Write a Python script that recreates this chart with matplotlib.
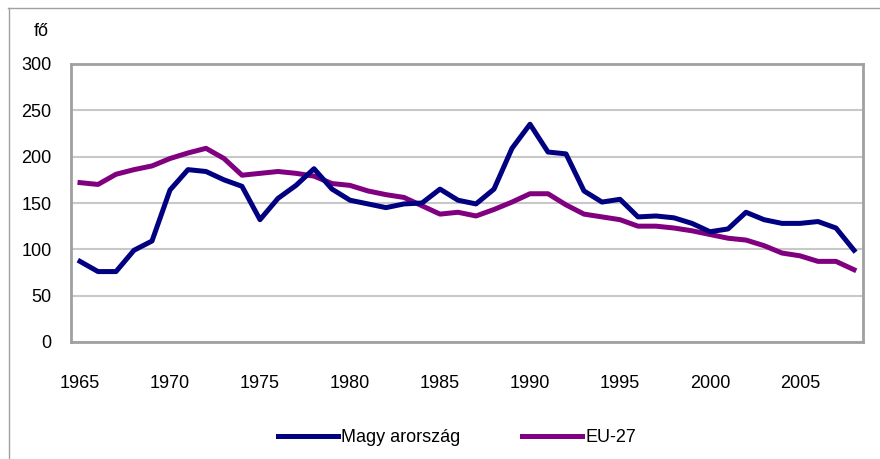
import matplotlib
matplotlib.use("Agg")
import matplotlib.pyplot as plt
from matplotlib import font_manager
from matplotlib.lines import Line2D

years = list(range(1965, 2009))
hungary = [87, 76, 76, 99, 109, 164, 186, 184, 175, 168,
           132, 155, 169, 187, 165, 153, 149, 145, 149, 150,
           165, 153, 149, 165, 209, 235, 205, 203, 163, 151,
           154, 135, 136, 134, 128, 119, 122, 140, 132, 128,
           128, 130, 123, 99]
eu27 = [172, 170, 181, 186, 190, 198, 204, 209, 198, 180,
        182, 184, 182, 179, 171, 169, 163, 159, 156, 147,
        138, 140, 136, 143, 151, 160, 160, 148, 138, 135,
        132, 125, 125, 123, 120, 116, 112, 110, 104, 96,
        93, 87, 87, 78]
series_labels = ["Magy arország", "EU-27"]
y_ticks = [0, 50, 100, 150, 200, 250, 300]
x_label_years = [1965, 1970, 1975, 1980, 1985, 1990, 1995, 2000, 2005]
unit_label = "fő"

names = {f.name for f in font_manager.fontManager.ttflist}
if "Liberation Sans Narrow" in names:
    fam = ["Liberation Sans Narrow", "DejaVu Sans"]
    fs = 14.5
else:
    fam = ["Liberation Sans", "DejaVu Sans"]
    fs = 13
plt.rcParams["font.family"] = fam

fig = plt.figure(figsize=(8.8, 4.59), dpi=100)
ax = fig.add_axes([71/880, 1-342/459, 792/880, 278/459])

idx = list(range(len(years)))
ax.plot(idx, hungary, color="#000080", lw=3.6, solid_joinstyle="round", label=series_labels[0], zorder=3)
ax.plot(idx, eu27, color="#800080", lw=3.6, solid_joinstyle="round", label=series_labels[1], zorder=2)

ax.set_xlim(-0.5, len(years)-0.5)
ax.set_ylim(0, 300)
ax.set_yticks(y_ticks)
ax.set_yticklabels([str(v) for v in y_ticks], fontsize=fs)
ax.set_xticks([years.index(y) for y in x_label_years])
ax.set_xticklabels([str(y) for y in x_label_years], fontsize=fs)
ax.tick_params(axis="both", length=0)
ax.tick_params(axis="y", pad=14)
ax.tick_params(axis="x", pad=24)
ax.grid(axis="y", color="#c8c8c8", lw=1.5)
ax.set_axisbelow(True)
for s in ax.spines.values():
    s.set_color("#a0a0a0")
    s.set_linewidth(2)

fig.text(49/880, 1-31/459, unit_label, fontsize=fs, ha="right", va="center")

# outer frame (top and left edges)
fig.add_artist(Line2D([8/880, 1], [1-8/459, 1-8/459], color="#a0a0a0", lw=1, transform=fig.transFigure))
fig.add_artist(Line2D([8.5/880, 8.5/880], [0, 1-8/459], color="#a0a0a0", lw=1, transform=fig.transFigure))

fig.legend(loc="center", bbox_to_anchor=(457/880, 1-438/459), ncol=2, frameon=False,
           fontsize=fs, handlelength=3.3, handletextpad=0.2, columnspacing=3.4)

fig.savefig("out.png", dpi=100)
